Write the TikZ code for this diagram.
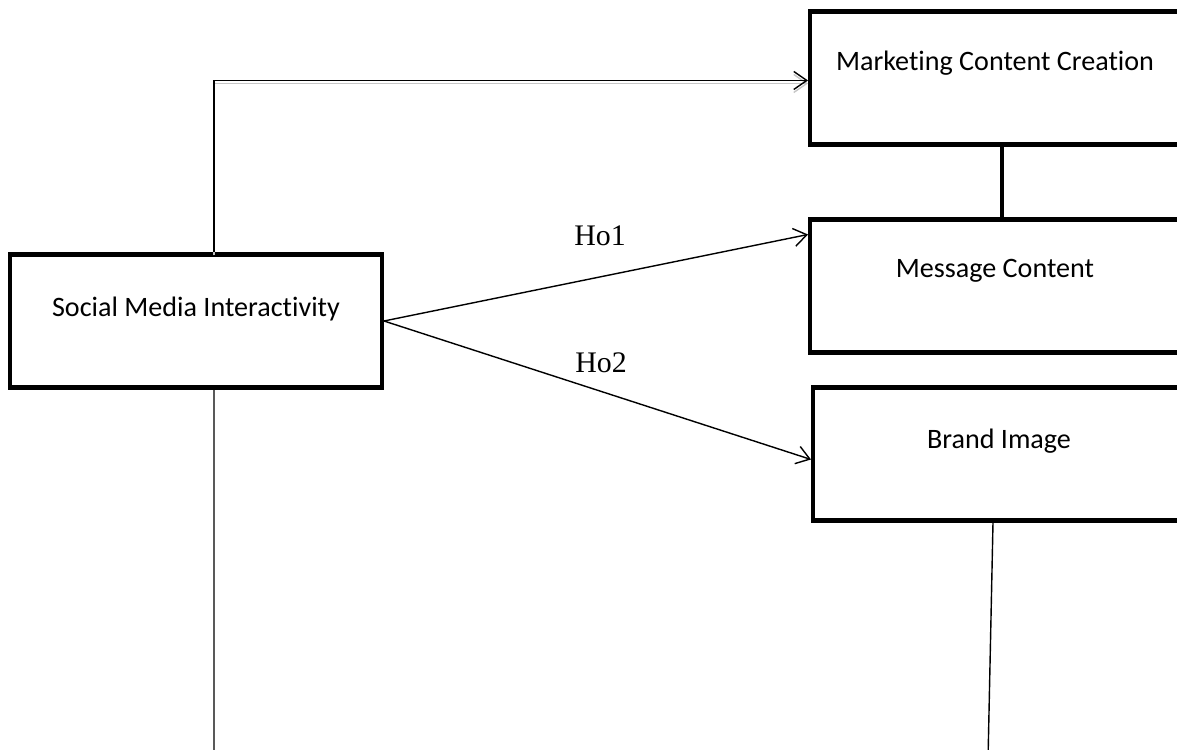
\documentclass[tikz,border=0pt]{standalone}
\usepackage{fontspec}
\setmainfont{Liberation Serif}
\newfontfamily\boxfont[Ligatures=NoCommon]{Carlito}
\usepackage{tikz}
\usetikzlibrary{arrows.meta}

\tikzset{
  box/.style={draw,line width=2.3pt,minimum width=7.44cm,minimum height=2.66cm,inner sep=0pt},
  boxtext/.style={font=\boxfont\fontsize{16}{19}\selectfont,inner sep=0pt},
  hyp/.style={font=\fontsize{17}{20}\selectfont,inner sep=0pt,anchor=base},
  link/.style={line width=0.8pt},
  arr/.style={link,-{Straight Barb[length=0.26cm,width=0.36cm,line width=0.8pt]}}
}

\begin{document}
\begin{tikzpicture}[x=0.02cm,y=-0.02cm]
  \useasboundingbox (0,0) rectangle (1177,750);
  \clip (0,0) rectangle (1177,750);

  % boxes
  \node[box] (smi) at (196,321) {};
  \node[box] (mcc) at (996,78) {};
  \node[box] (mc) at (996,286) {};
  \node[box] (bi) at (999,454) {};

  \node[boxtext] (smit) at (196,309) {Social Media Interactivity};
  \node[boxtext] (mcct) at (995,63) {Marketing Content Creation};
  \node[boxtext] (mct) at (995,271) {Message Content};
  \node[boxtext] (bit) at (999,441) {Brand Image};

  \node[hyp] (ho1) at (600,245) {Ho1};
  \node[hyp] (ho2) at (601,372) {Ho2};

  % loose ends at the bottom
  \coordinate (smiend) at (214,760);
  \coordinate (biend) at (988,760);

  % links
  \draw[arr,gray!45] ([xshift=0.36cm,yshift=-0.06cm]smi.north) |- ([yshift=-1.48cm]mcc.north west);
  \draw[arr] ([xshift=0.36cm]smi.north) |- ([yshift=-1.42cm]mcc.north west);
  \draw[arr] (smi.east) -- ([yshift=-0.34cm]mc.north west);
  \draw[arr] (smi.east) -- ([yshift=-1.48cm]bi.north west);
  \draw[line width=2.3pt] ([xshift=0.12cm]mcc.south) -- ([xshift=0.12cm]mc.north);
  \draw[link] ([xshift=0.36cm]smi.south) -- (smiend);
  \draw[link] ([xshift=-0.12cm]bi.south) -- (biend);
\end{tikzpicture}
\end{document}
